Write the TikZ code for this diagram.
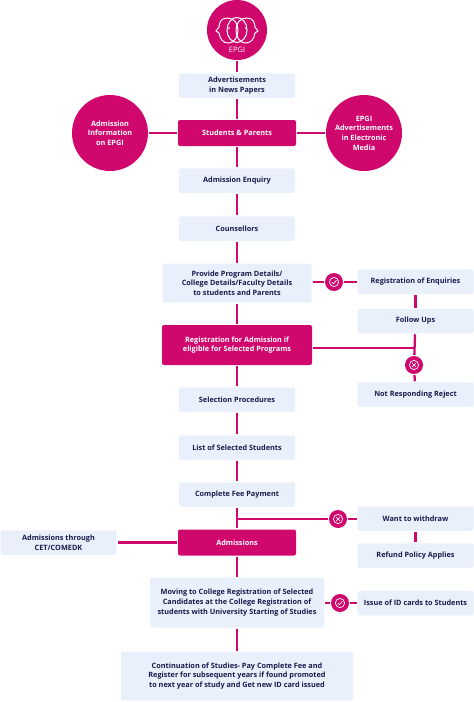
\documentclass[tikz,border=0pt]{standalone}
\usepackage{fontspec}
\setmainfont{Open Sans}
\usetikzlibrary{arrows}
\definecolor{epgipink}{HTML}{D0086E}
\definecolor{epgipale}{HTML}{E9EFFB}
\definecolor{epginavy}{HTML}{1B1B4B}
\newcommand{\okmark}[1]{
  \draw[white,line width=0.7pt] (#1) circle (4.6pt);
  \draw[white,line width=0.7pt] ([shift={(-2.2pt,0pt)}]#1.center) -- ++(1.6pt,-1.7pt) -- ++(3pt,3.4pt);
}
\newcommand{\nomark}[1]{
  \draw[white,line width=0.7pt] (#1) circle (4.6pt);
  \draw[white,line width=0.7pt] ([shift={(-1.9pt,-1.9pt)}]#1.center) -- ++(3.8pt,3.8pt) ++(-3.8pt,0pt) -- ++(3.8pt,-3.8pt);
}
\begin{document}
\begin{tikzpicture}[x=1pt,y=-1pt,line width=2.3pt,draw=epgipink]
  \tikzstyle{every node}=[font=\fontsize{7.3}{9.7}\selectfont\bfseries,align=center,inner sep=0pt]
  \tikzstyle{palebox}=[rectangle,rounded corners=2pt,fill=epgipale,text=epginavy,outer sep=1pt]
  \tikzstyle{pinkbox}=[rectangle,rounded corners=2pt,fill=epgipink,text=white]
  \tikzstyle{stepbox}=[palebox,minimum width=116pt,minimum height=24.5pt]
  \tikzstyle{bigcirc}=[circle,fill=epgipink,text=white,minimum size=76pt]
  \tikzstyle{markcirc}=[circle,fill=epgipink,minimum size=18pt]
  \useasboundingbox (0,0) rectangle (474,702);

  \node[circle,fill=epgipink,minimum size=60pt]	(logo)     at (237,30)    {};
  \coordinate									(top)      at (237,0);
  \node[stepbox]								(adverts)  at (237,85.5)  {Advertisements\\in News Papers};
  \node[pinkbox,minimum width=118pt,minimum height=26pt]	(students) at (237,133)   {Students \& Parents};
  \node[bigcirc]								(info)     at (110,133)   {Admission\\Information\\on EPGI};
  \node[bigcirc]								(media)    at (364,133)   {EPGI\\Advertisements\\in Electronic\\Media};
  \node[stepbox]								(enquiry)  at (237,180.5) {Admission Enquiry};
  \node[stepbox]								(couns)    at (237,228.5) {Counsellors};
  \node[palebox,minimum width=149pt,minimum height=39pt]	(details)  at (237,283)   {Provide Program Details/\\College Details/Faculty Details\\to students and Parents};
  \node[pinkbox,minimum width=150pt,minimum height=40pt]	(regadm)   at (237,345)   {Registration for Admission if\\eligible for Selected Programs};
  \node[stepbox]								(select)   at (237,399.5) {Selection Procedures};
  \node[stepbox]								(list)     at (237,447.5) {List of Selected Students};
  \node[stepbox]								(fee)      at (237,494.5) {Complete Fee Payment};
  \node[pinkbox,minimum width=118pt,minimum height=26pt]	(admit)    at (237,542.5) {Admissions};
  \node[palebox,minimum width=174pt,minimum height=50pt]	(moving)   at (237,602.5) {Moving to College Registration of Selected\\Candidates at the College Registration of\\students with University Starting of Studies};
  \node[palebox,minimum width=232pt,minimum height=49pt]	(contin)   at (237,676)   {Continuation of Studies- Pay Complete Fee and\\Register for subsequent years if found promoted\\to next year of study and Get new ID card issued};

  \node[stepbox]								(cet)      at (58.5,542.5) {Admissions through\\CET/COMEDK};
  \node[stepbox]								(regenq)   at (415.5,281.5) {Registration of Enquiries};
  \node[stepbox]								(follow)   at (415.5,321)   {Follow Ups};
  \node[stepbox]								(reject)   at (415.5,394.5) {Not Responding Reject};
  \node[stepbox]								(withdraw) at (415.5,518.5) {Want to withdraw};
  \node[stepbox]								(refund)   at (415.5,555.5) {Refund Policy Applies};
  \node[stepbox]								(idcards)  at (415.5,603)   {Issue of ID cards to Students};

  \node[markcirc]								(okA)      at (334,282)   {};
  \node[markcirc]								(noA)      at (414,365)   {};
  \node[markcirc]								(noB)      at (338,519)   {};
  \node[markcirc]								(okB)      at (340,603)   {};
  \coordinate									(joinA)    at (414,348);
  \coordinate									(joinB)    at (237,519);

  \path (top) edge (logo)
        (logo) edge (adverts)
        (adverts) edge (students)
        (students) edge (enquiry)
        (students) edge (info)
        (students) edge (media)
        (enquiry) edge (couns)
        (couns) edge (details)
        (details) edge (regadm)
        (regadm) edge (select)
        (select) edge (list)
        (list) edge (fee)
        (fee) edge (admit)
        (admit) edge (cet)
        (admit) edge (moving)
        (moving) edge (contin)

        (details.east |- okA) edge (okA)
        (okA) edge (regenq.west |- okA)
        (regenq) edge (follow)
        (follow) edge (noA)
        (noA) edge (reject)
        (regadm.east |- joinA) edge (joinA)
        (joinB) edge (noB)
        (noB) edge (withdraw.west |- noB)
        (withdraw) edge (refund)
        (moving.east |- okB) edge (okB)
        (okB) edge (idcards.west |- okB);

  \okmark{okA}
  \nomark{noA}
  \nomark{noB}
  \okmark{okB}

  % logo heads
  \draw[white,line width=1pt] (227,18) .. controls (221,18) and (219,23) .. (219,27) -- (216,31) -- (219,33)
        .. controls (220,39) and (223,43) .. (228,43) .. controls (235,43) and (238,36) .. (238,30)
        .. controls (238,23) and (234,18) .. (227,18) -- cycle;
  \draw[white,line width=1pt] (247,18) .. controls (253,18) and (255,23) .. (255,27) -- (258,31) -- (255,33)
        .. controls (254,39) and (251,43) .. (246,43) .. controls (239,43) and (236,36) .. (236,30)
        .. controls (236,23) and (240,18) .. (247,18) -- cycle;
  \draw[white,line width=1pt] (237,30) ellipse (10pt and 12.5pt);
  \fill[white] (229,28) circle (1pt) (237.5,28) circle (1pt) (246,28) circle (1pt);
  \node[text=white,font=\fontsize{7.5}{9}\selectfont] (logotext) at (237,49.5) {EPGI};
\end{tikzpicture}
\end{document}
